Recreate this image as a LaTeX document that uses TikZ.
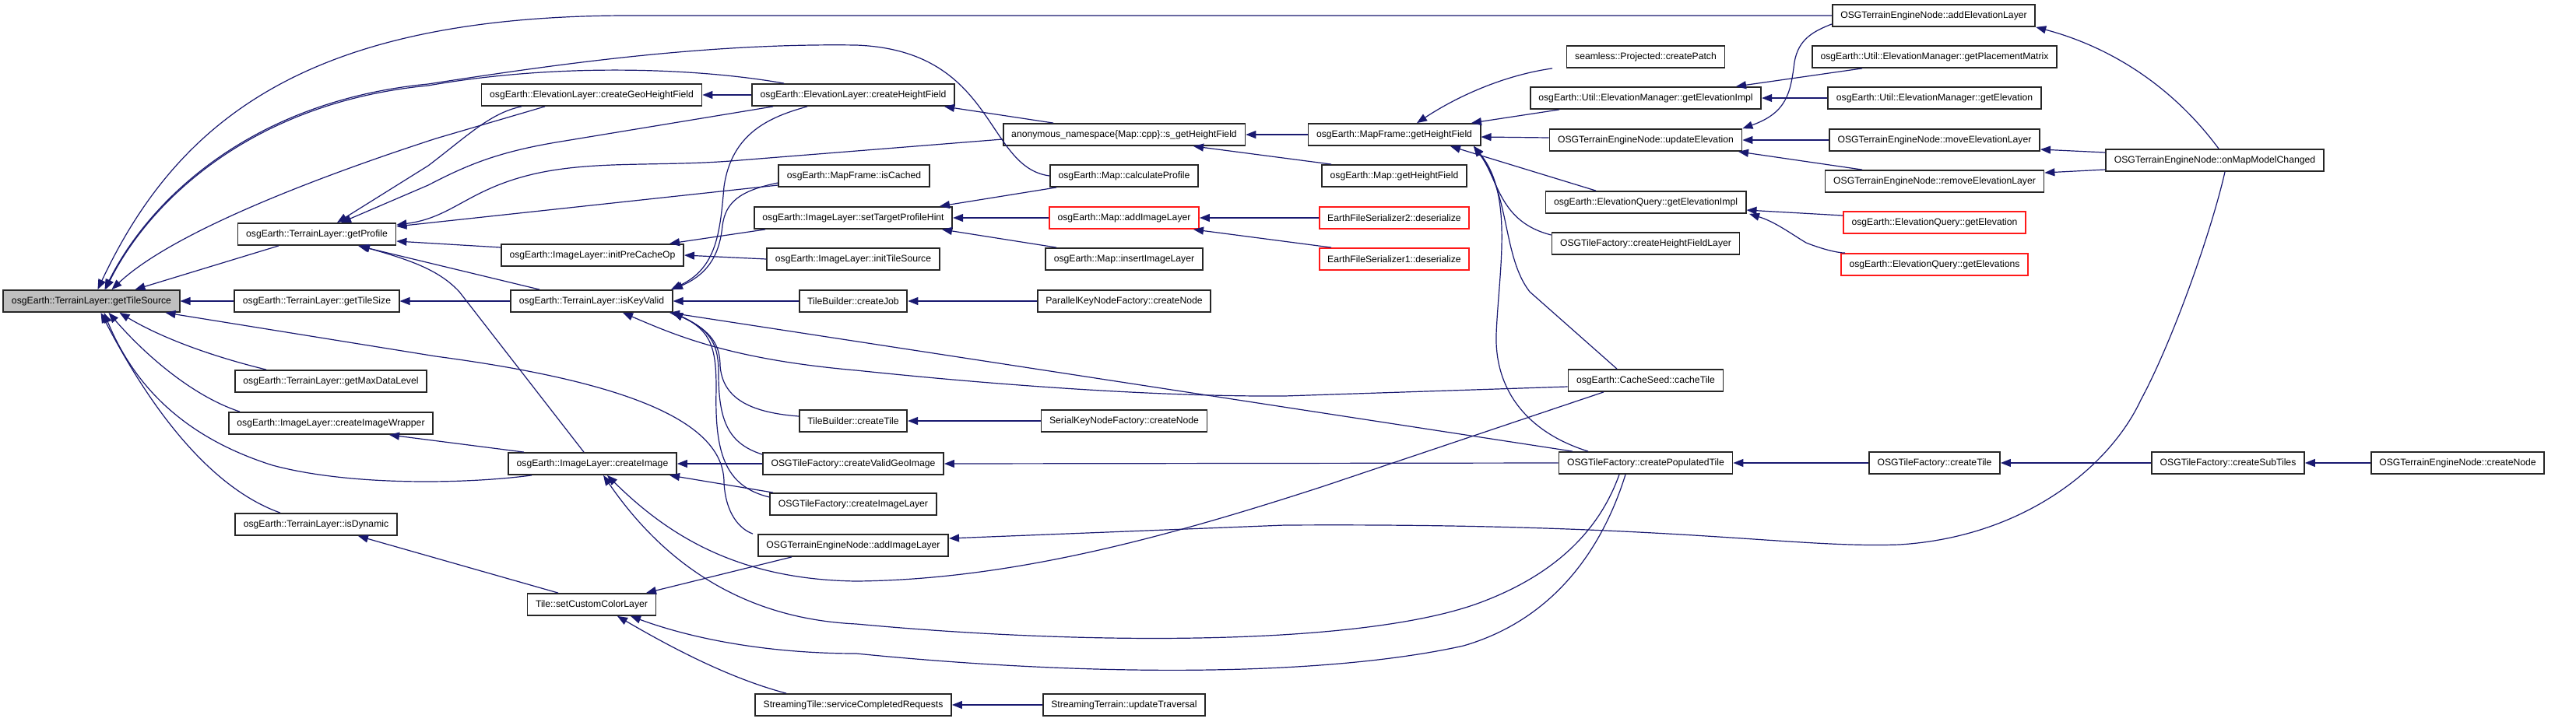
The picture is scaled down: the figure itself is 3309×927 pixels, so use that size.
\documentclass[tikz,border=0pt]{standalone}
\usepackage{fontspec}
\newfontfamily\cgfont{Liberation Sans}
\usepackage{xcolor}
\definecolor{cgedge}{HTML}{191970}
\definecolor{cgrootfill}{HTML}{BFBFBF}
\usepackage{tikz}
\usetikzlibrary{arrows.meta,calc}
\tikzset{
  cgbox/.style={draw=black!85,line width=0.9pt,fill=white,inner xsep=5.3pt,inner ysep=0pt,minimum height=14pt,font=\cgfont\fontsize{6.1}{7}\selectfont},
  cgroot/.style={cgbox,fill=cgrootfill},
  cgred/.style={cgbox,draw=red!90},
  cgcall/.style={{Triangle[length=6.5pt,width=5pt]}-,draw=cgedge,line width=0.6pt},
}

\begin{document}
\begin{tikzpicture}[x=0.5pt,y=-0.5pt]
\path[use as bounding box,fill=white](0,0) rectangle (3309,927);
\node[cgroot] (gts) at (117.5,387) {osgEarth::TerrainLayer::getTileSource};
\node[cgbox] (gpro) at (407,301) {osgEarth::TerrainLayer::getProfile};
\node[cgbox] (gtsz) at (407,387) {osgEarth::TerrainLayer::getTileSize};
\node[cgbox] (gmdl) at (425,490) {osgEarth::TerrainLayer::getMaxDataLevel};
\node[cgbox] (ciw) at (425,544) {osgEarth::ImageLayer::createImageWrapper};
\node[cgbox] (isdyn) at (406,674) {osgEarth::TerrainLayer::isDynamic};
\node[cgbox] (cghf) at (760,122) {osgEarth::ElevationLayer::createGeoHeightField};
\node[cgbox] (ipco) at (761,328) {osgEarth::ImageLayer::initPreCacheOp};
\node[cgbox] (ikv) at (760,387) {osgEarth::TerrainLayer::isKeyValid};
\node[cgbox] (cimg) at (761,596) {osgEarth::ImageLayer::createImage};
\node[cgbox] (scl) at (760,777) {Tile::setCustomColorLayer};
\node[cgbox] (elchf) at (1096,122) {osgEarth::ElevationLayer::createHeightField};
\node[cgbox] (isc) at (1097,226) {osgEarth::MapFrame::isCached};
\node[cgbox] (stph) at (1096,280) {osgEarth::ImageLayer::setTargetProfileHint};
\node[cgbox] (its) at (1096,333) {osgEarth::ImageLayer::initTileSource};
\node[cgbox] (tbjob) at (1096,387) {TileBuilder::createJob};
\node[cgbox] (tbtile) at (1096,541) {TileBuilder::createTile};
\node[cgbox] (cvgi) at (1096,596) {OSGTileFactory::createValidGeoImage};
\node[cgbox] (cil) at (1096,648) {OSGTileFactory::createImageLayer};
\node[cgbox] (tail) at (1096,701) {OSGTerrainEngineNode::addImageLayer};
\node[cgbox] (scr) at (1096,906) {StreamingTile::serviceCompletedRequests};
\node[cgbox] (sghf) at (1444,173) {anonymous\_namespace\{Map::cpp\}::s\_getHeightField};
\node[cgbox] (calc) at (1444,226) {osgEarth::Map::calculateProfile};
\node[cgred] (mail) at (1444,280) {osgEarth::Map::addImageLayer};
\node[cgbox] (mil) at (1444,333) {osgEarth::Map::insertImageLayer};
\node[cgbox] (pknf) at (1444,387) {ParallelKeyNodeFactory::createNode};
\node[cgbox] (sknf) at (1444,541) {SerialKeyNodeFactory::createNode};
\node[cgbox] (sut) at (1444,906) {StreamingTerrain::updateTraversal};
\node[cgbox] (mfhf) at (1791,173) {osgEarth::MapFrame::getHeightField};
\node[cgbox] (mhf) at (1791,226) {osgEarth::Map::getHeightField};
\node[cgred] (efs2) at (1791,280) {EarthFileSerializer2::deserialize};
\node[cgred] (efs1) at (1791,333) {EarthFileSerializer1::deserialize};
\node[cgbox] (cpat) at (2114,73) {seamless::Projected::createPatch};
\node[cgbox] (emgi) at (2114,126) {osgEarth::Util::ElevationManager::getElevationImpl};
\node[cgbox] (upel) at (2114,180) {OSGTerrainEngineNode::updateElevation};
\node[cgbox] (eqgi) at (2114,260) {osgEarth::ElevationQuery::getElevationImpl};
\node[cgbox] (chfl) at (2114,313) {OSGTileFactory::createHeightFieldLayer};
\node[cgbox] (cst) at (2114,489) {osgEarth::CacheSeed::cacheTile};
\node[cgbox] (cpt) at (2114,595) {OSGTileFactory::createPopulatedTile};
\node[cgbox] (ael) at (2484,20) {OSGTerrainEngineNode::addElevationLayer};
\node[cgbox] (gpm) at (2485,73) {osgEarth::Util::ElevationManager::getPlacementMatrix};
\node[cgbox] (emge) at (2485,126) {osgEarth::Util::ElevationManager::getElevation};
\node[cgbox] (mel) at (2485,180) {OSGTerrainEngineNode::moveElevationLayer};
\node[cgbox] (rel) at (2485,233) {OSGTerrainEngineNode::removeElevationLayer};
\node[cgred] (eqge) at (2485,286) {osgEarth::ElevationQuery::getElevation};
\node[cgred] (eqges) at (2485,340) {osgEarth::ElevationQuery::getElevations};
\node[cgbox] (ctile) at (2485,595) {OSGTileFactory::createTile};
\node[cgbox] (mmc) at (2845,206) {OSGTerrainEngineNode::onMapModelChanged};
\node[cgbox] (subt) at (2862,595) {OSGTileFactory::createSubTiles};
\node[cgbox] (tcn) at (3157,595) {OSGTerrainEngineNode::createNode};
% callers of getTileSource
\draw[cgcall]($(gts.north)+(8,0)$) .. controls (230,150) and (400,22) .. (800,20) -- (ael.west);
\draw[cgcall]($(gts.north)+(17,0)$) .. controls (190,260) and (320,130) .. (550,108) .. controls (700,85) and (900,55) .. (1100,58) .. controls (1280,65) and (1265,215) .. (calc.west);
\draw[cgcall]($(gts.north)+(18,0)$) .. controls (190,262) and (320,132) .. (550,110) .. controls (720,80) and (900,88) .. ($(elchf.north)+(-89,0)$);
\draw[cgcall]($(gts.north)+(26,0)$) .. controls (220,300) and (400,230) .. (560,178) -- ($(cghf.south)+(-60,0)$);
\draw[cgcall]($(gts.north)+(56,0)$) -- ($(gpro.south)+(-49,0)$);
\draw[cgcall](gts.east) -- (gtsz.west);
\draw[cgcall]($(gts.south)+(36,0)$) .. controls (200,430) and (260,455) .. ($(gmdl.north)+(-83,0)$);
\draw[cgcall]($(gts.south)+(22,0)$) .. controls (190,460) and (250,510) .. ($(ciw.north)+(-117,0)$);
\draw[cgcall]($(gts.south)+(16,0)$) .. controls (170,490) and (230,560) .. (350,598) .. controls (450,625) and (600,622) .. ($(cimg.south)+(-78,0)$);
\draw[cgcall]($(gts.south)+(12,0)$) .. controls (170,480) and (250,620) .. ($(isdyn.north)+(-46,0)$);
\draw[cgcall]($(gts.south)+(95,0)$) -- (560,458) .. controls (800,490) and (930,540) .. (930,620) .. controls (932,660) and (950,680) .. ($(tail.north)+(-129,0)$);
% second column
\draw[cgcall](gtsz.east) -- (ikv.west);
\draw[cgcall]($(gpro.south)+(53,0)$) -- ($(ikv.north)+(-67,0)$);
\draw[cgcall]($(gpro.south)+(55,0)$) .. controls (530,335) and (565,348) .. (590,375) -- ($(cimg.north)+(-11,0)$);
\draw[cgcall]($(gpro.north)+(26,0)$) -- (550,213) .. controls (600,175) and (630,145) .. ($(cghf.south)+(-90,0)$);
\draw[cgcall]($(gpro.north)+(31,0)$) -- (550,238) .. controls (600,212) and (640,195) .. (720,182) -- ($(elchf.south)+(-103,0)$);
\draw[cgcall]($(gpro.east)+(0,-12)$) .. controls (580,280) and (600,245) .. (680,225) .. controls (760,205) and (850,215) .. (950,206) -- ($(sghf.west)+(0,6)$);
\draw[cgcall]($(gpro.east)+(0,-10)$) -- ($(isc.west)+(0,12)$);
\draw[cgcall]($(gpro.east)+(0,9)$) -- ($(ipco.west)+(0,-10)$);
\draw[cgcall]($(ikv.north)+(102,0)$) .. controls (920,345) and (925,300) .. (930,240) .. controls (940,170) and (990,150) .. ($(elchf.south)+(-59,0)$);
\draw[cgcall]($(ikv.north)+(104,0)$) .. controls (915,350) and (925,320) .. (928,290) .. controls (932,260) and (950,245) .. ($(isc.west)+(0,9)$);
\draw[cgcall](ikv.east) -- (tbjob.west);
\draw[cgcall]($(ikv.south)+(100,0)$) -- ($(cpt.north)+(-94,0)$);
\draw[cgcall]($(ikv.south)+(40,0)$) .. controls (870,432) and (940,462) .. (1100,476) .. controls (1300,497) and (1500,510) .. (1650,509) -- ($(cst.west)+(0,8)$);
\draw[cgcall]($(ikv.south)+(104,0)$) .. controls (915,425) and (925,445) .. (925,470) .. controls (928,510) and (960,530) .. ($(tbtile.west)+(0,-6)$);
\draw[cgcall]($(ikv.south)+(104,0)$) .. controls (915,425) and (923,445) .. (923,480) .. controls (923,540) and (935,570) .. ($(cvgi.west)+(0,-12)$);
\draw[cgcall]($(ikv.south)+(104,0)$) .. controls (915,425) and (920,450) .. (920,500) .. controls (918,580) and (930,625) .. ($(cil.west)+(0,-9)$);
\draw[cgcall]($(ciw.south)+(75,0)$) -- ($(cimg.north)+(-88,0)$);
\draw[cgcall](cimg.east) -- (cvgi.west);
\draw[cgcall]($(cimg.south)+(99,0)$) -- ($(cil.north)+(-103,0)$);
\draw[cgcall]($(cimg.south)+(19,0)$) .. controls (860,690) and (950,745) .. (1100,747) .. controls (1300,745) and (1500,690) .. (1700,625) -- ($(cst.south)+(-54,0)$);
\draw[cgcall]($(cimg.south)+(14,0)$) .. controls (850,720) and (950,795) .. (1100,802) .. controls (1400,830) and (1750,830) .. (1900,775) .. controls (2000,738) and (2055,680) .. ($(cpt.south)+(-34,0)$);
\draw[cgcall]($(isdyn.south)+(54,0)$) -- ($(scl.north)+(-43,0)$);
\draw[cgcall]($(scl.north)+(70,0)$) -- ($(tail.south)+(-79,0)$);
\draw[cgcall]($(scl.south)+(50,0)$) .. controls (900,825) and (1000,840) .. (1100,840) .. controls (1400,870) and (1700,870) .. (1880,830) .. controls (2000,795) and (2060,700) .. ($(cpt.south)+(-26,0)$);
\draw[cgcall]($(scl.south)+(33,0)$) .. controls (850,825) and (930,870) .. ($(scr.north)+(-86,0)$);
% third column
\draw[cgcall](cghf.east) -- (elchf.west);
\draw[cgcall]($(elchf.south)+(117,0)$) -- ($(sghf.north)+(-91,0)$);
\draw[cgcall]($(ipco.north)+(99,0)$) -- ($(stph.south)+(-113,0)$);
\draw[cgcall](ipco.east) -- (its.west);
\draw[cgcall]($(stph.north)+(111,0)$) -- ($(calc.south)+(-87,0)$);
\draw[cgcall](stph.east) -- (mail.west);
\draw[cgcall]($(stph.south)+(114,0)$) -- ($(mil.north)+(-87,0)$);
\draw[cgcall](tbjob.east) -- (pknf.west);
\draw[cgcall](tbtile.east) -- (sknf.west);
\draw[cgcall](cvgi.east) -- (cpt.west);
\draw[cgcall](scr.east) -- (sut.west);
\draw[cgcall]($(tail.east)+(0,-9)$) -- (1650,675) .. controls (2150,672) and (2300,705) .. (2440,700) .. controls (2600,690) and (2710,600) .. (2750,514) .. controls (2790,440) and (2840,300) .. ($(mmc.south)+(13,0)$);
% fourth column
\draw[cgcall](sghf.east) -- (mfhf.west);
\draw[cgcall]($(sghf.south)+(89,0)$) -- ($(mhf.north)+(-81,0)$);
\draw[cgcall](mail.east) -- (efs2.west);
\draw[cgcall]($(mail.south)+(89,0)$) -- ($(efs1.north)+(-81,0)$);
\draw[cgcall]($(mfhf.north)+(29,0)$) .. controls (1870,125) and (1930,97) .. ($(cpat.south)+(-120,0)$);
\draw[cgcall]($(mfhf.north)+(99,0)$) -- ($(emgi.south)+(-111,0)$);
\draw[cgcall]($(mfhf.east)+(0,3)$) -- ($(upel.west)+(0,-3)$);
\draw[cgcall]($(mfhf.south)+(72,0)$) -- ($(eqgi.north)+(-64,0)$);
\draw[cgcall]($(mfhf.south)+(102,0)$) .. controls (1925,230) and (1925,285) .. ($(chfl.west)+(0,-11)$);
\draw[cgcall]($(mfhf.south)+(102,0)$) .. controls (1940,250) and (1930,330) .. (1965,375) -- ($(cst.north)+(-37,0)$);
\draw[cgcall]($(mfhf.south)+(102,0)$) .. controls (1945,250) and (1925,350) .. (1922,430) .. controls (1920,500) and (1960,555) .. ($(cpt.north)+(-74,0)$);
% right part
\draw[cgcall]($(emgi.north)+(116,0)$) -- ($(gpm.south)+(-93,0)$);
\draw[cgcall](emgi.east) -- (emge.west);
\draw[cgcall](upel.north east) .. controls (2295,145) and (2300,120) .. (2305,80) .. controls (2310,50) and (2330,40) .. ($(ael.west)+(0,11)$);
\draw[cgcall](upel.east) -- (mel.west);
\draw[cgcall]($(upel.south)+(119,0)$) -- ($(rel.north)+(-93,0)$);
\draw[cgcall]($(eqgi.east)+(0,10)$) -- ($(eqge.west)+(0,-9)$);
\draw[cgcall]($(eqgi.south)+(133,0)$) .. controls (2280,285) and (2300,300) .. (2320,312) .. controls (2340,320) and (2360,325) .. ($(eqges.north)+(-115,0)$);
\draw[cgcall](ael.south east) .. controls (2710,60) and (2790,110) .. ($(mmc.north)+(5,0)$);
\draw[cgcall]($(mel.east)+(0,12)$) -- ($(mmc.west)+(0,-10)$);
\draw[cgcall]($(rel.east)+(0,-11)$) -- ($(mmc.west)+(0,12)$);
\draw[cgcall](cpt.east) -- (ctile.west);
\draw[cgcall](ctile.east) -- (subt.west);
\draw[cgcall](subt.east) -- (tcn.west);
\end{tikzpicture}
\end{document}
